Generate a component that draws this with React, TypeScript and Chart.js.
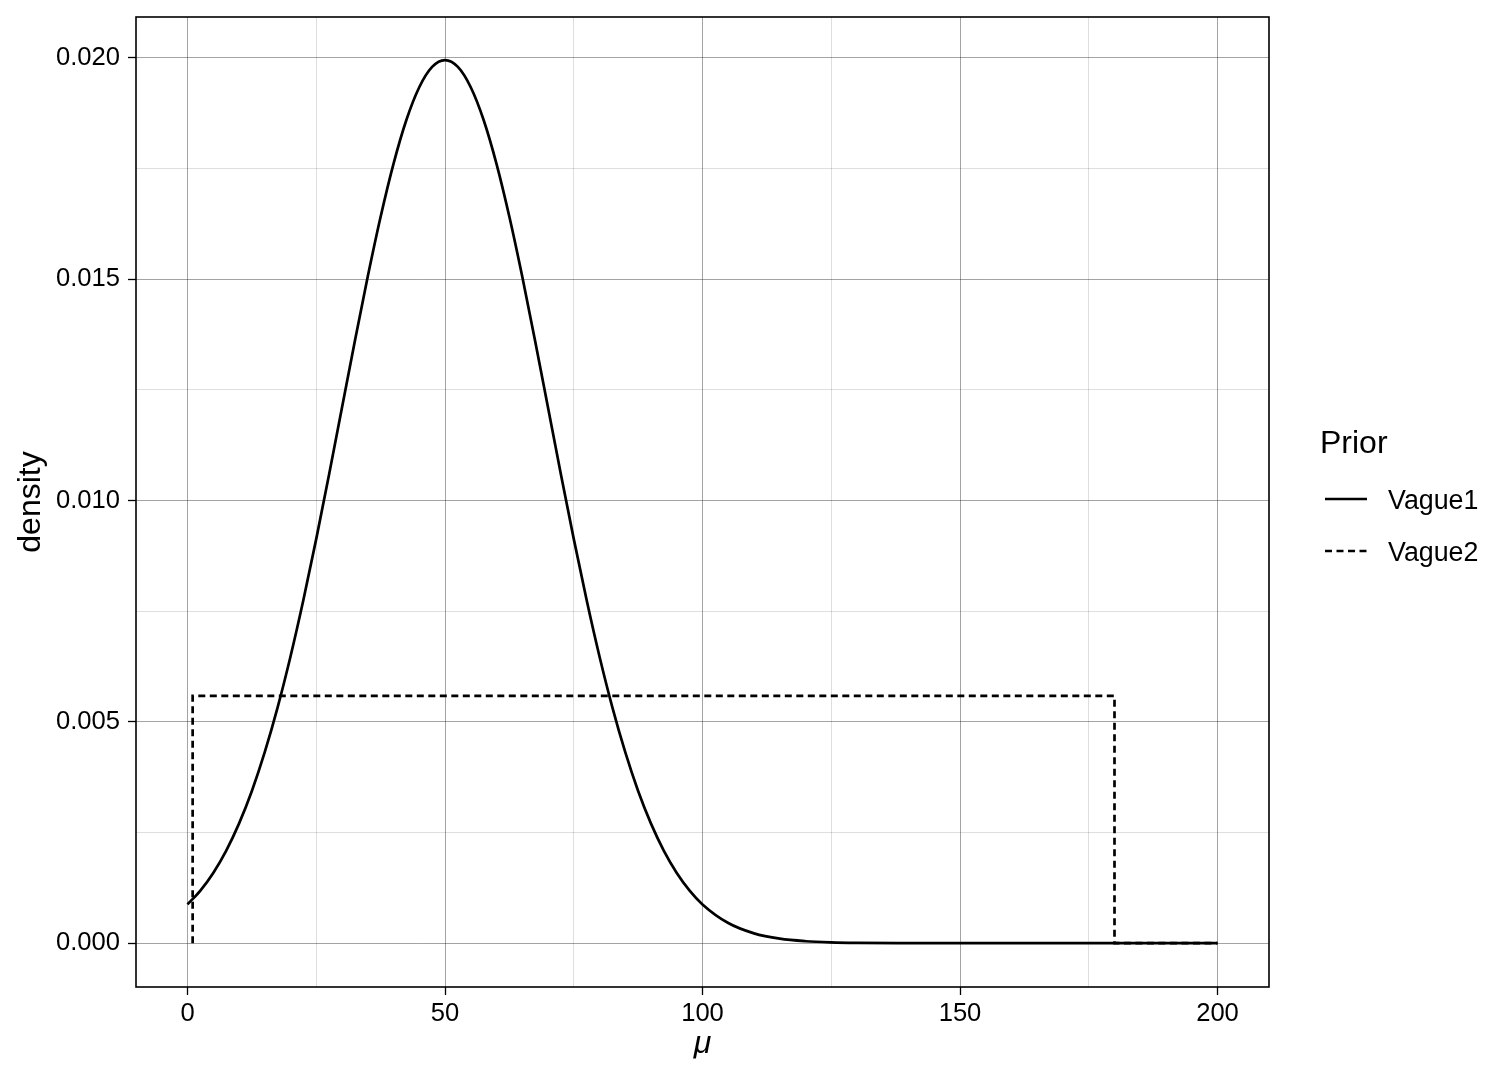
import { useEffect, useRef } from "react";
import { Chart, registerables } from "chart.js";

Chart.register(...registerables);

// ---- data ----
const vague1X = [
  0, 2.5, 5, 7.5, 10, 12.5, 15, 17.5, 20, 22.5, 25, 27.5, 30, 32.5, 35, 37.5, 40, 42.5, 45, 47.5,
  50, 52.5, 55, 57.5, 60, 62.5, 65, 67.5, 70, 72.5, 75, 77.5, 80, 82.5, 85, 87.5, 90, 92.5, 95, 97.5,
  100, 105, 110, 115, 120, 125, 130, 140, 150, 160, 170, 180, 190, 200,
];
const vague1Y = [
  0.000876, 0.001188, 0.001587, 0.002086, 0.0027, 0.003439, 0.004314, 0.005327, 0.006476, 0.007751,
  0.009132, 0.010594, 0.012099, 0.013603, 0.015057, 0.016408, 0.017603, 0.018593, 0.019333, 0.019792,
  0.019947, 0.019792, 0.019333, 0.018593, 0.017603, 0.016408, 0.015057, 0.013603, 0.012099, 0.010594,
  0.009132, 0.007751, 0.006476, 0.005327, 0.004314, 0.003439, 0.0027, 0.002086, 0.001587, 0.001188,
  0.000876, 0.000455, 0.000222, 0.000101, 0.000044, 0.000018, 0.000007, 0.000001, 0, 0, 0, 0, 0, 0,
];
const vague2X = [1, 1, 180, 180, 200];
const vague2Y = [0, 0.005587, 0.005587, 0, 0];

const seriesNames = ["Vague1", "Vague2"];
const legendTitle = "Prior";
const xTitle = "μ";
const yTitle = "density";

const xMajorTicks = [0, 50, 100, 150, 200];
const xMinorTicks = [25, 75, 125, 175];
const xTickLabels = ["0", "50", "100", "150", "200"];
const yMajorTicks = [0, 0.005, 0.01, 0.015, 0.02];
const yMinorTicks = [0.0025, 0.0075, 0.0125, 0.0175];
const yTickLabels = ["0.000", "0.005", "0.010", "0.015", "0.020"];

const FONT = "'Liberation Sans', Arial, Helvetica, sans-serif";
const MAJOR_GRID = "rgba(0,0,0,0.36)";
const MINOR_GRID = "rgba(0,0,0,0.13)";
const LINE_W = 2.7;
const DASH = [7, 4.5];

const idxOf = (arr: number[], v: number) => arr.findIndex((m) => Math.abs(m - v) < 1e-9);

export default function App() {
  const ref = useRef<HTMLCanvasElement>(null);

  useEffect(() => {
    document.body.style.margin = "0";
    const canvas = ref.current!;

    const borderPlugin = {
      id: "panelBorder",
      afterDatasetsDraw(chart: any) {
        const { ctx, chartArea } = chart;
        ctx.save();
        ctx.strokeStyle = "#000";
        ctx.lineWidth = 1.6;
        ctx.strokeRect(chartArea.left, chartArea.top, chartArea.right - chartArea.left, chartArea.bottom - chartArea.top);
        ctx.restore();
      },
    };

    const legendPlugin = {
      id: "customLegend",
      afterDraw(chart: any) {
        const { ctx } = chart;
        ctx.save();
        ctx.fillStyle = "#000";
        ctx.textAlign = "left";
        ctx.textBaseline = "alphabetic";
        ctx.font = `32px ${FONT}`;
        ctx.fillText(legendTitle, 1320, 453);
        const rows = [499, 551];
        ctx.font = `26.8px ${FONT}`;
        rows.forEach((y, i) => {
          ctx.beginPath();
          ctx.strokeStyle = "#000";
          ctx.lineWidth = LINE_W;
          ctx.setLineDash(i === 0 ? [] : DASH);
          ctx.moveTo(1325, y);
          ctx.lineTo(1367, y);
          ctx.stroke();
          ctx.setLineDash([]);
          ctx.fillText(seriesNames[i], 1388, y + 10);
        });
        ctx.restore();
      },
    };

    const xAll = [...xMajorTicks, ...xMinorTicks].sort((a, b) => a - b);
    const yAll = [...yMajorTicks, ...yMinorTicks].sort((a, b) => a - b);

    const chart = new Chart(canvas, {
      type: "scatter",
      data: {
        datasets: [
          {
            label: seriesNames[0],
            data: vague1X.map((x, i) => ({ x, y: vague1Y[i] })),
            showLine: true,
            borderColor: "#000",
            backgroundColor: "#000",
            borderWidth: LINE_W,
            pointRadius: 0,
            cubicInterpolationMode: "monotone",
            fill: false,
            order: 1,
          },
          {
            label: seriesNames[1],
            data: vague2X.map((x, i) => ({ x, y: vague2Y[i] })),
            showLine: true,
            borderColor: "#000",
            backgroundColor: "#000",
            borderWidth: LINE_W,
            borderDash: DASH,
            pointRadius: 0,
            tension: 0,
            fill: false,
            order: 0,
          },
        ] as any,
      },
      options: {
        responsive: false,
        animation: false,
        devicePixelRatio: 1,
        layout: { padding: { left: 0, top: 17, right: 243, bottom: 0 } },
        plugins: {
          legend: { display: false },
          tooltip: { enabled: false },
        },
        scales: {
          x: {
            type: "linear",
            min: -10,
            max: 210,
            afterBuildTicks: (s: any) => {
              s.ticks = xAll.map((v) => ({ value: v }));
            },
            afterFit: (s: any) => {
              s.height = 93;
              s.paddingLeft = 0;
              s.paddingRight = 0;
            },
            ticks: {
              autoSkip: false,
              maxRotation: 0,
              padding: 4,
              color: "#000",
              font: { family: FONT, size: 25.6 },
              callback: (v: any) => {
                const i = idxOf(xMajorTicks, Number(v));
                return i >= 0 ? xTickLabels[i] : "";
              },
            },
            grid: {
              color: (c: any) => (idxOf(xMajorTicks, c.tick?.value) >= 0 ? MAJOR_GRID : MINOR_GRID),
              lineWidth: 1,
              drawTicks: true,
              tickLength: 8,
              tickWidth: 1.3,
              tickColor: (c: any) => (idxOf(xMajorTicks, c.tick?.value) >= 0 ? "#000" : "rgba(0,0,0,0)"),
            },
            border: { display: false },
            title: {
              display: true,
              text: xTitle,
              color: "#000",
              font: { family: FONT, size: 32, style: "italic" },
              padding: { top: 0, bottom: 17 },
            },
          },
          y: {
            type: "linear",
            min: -0.00099,
            max: 0.02092,
            afterBuildTicks: (s: any) => {
              s.ticks = yAll.map((v) => ({ value: v }));
            },
            afterFit: (s: any) => {
              s.width = 136;
              s.paddingTop = 0;
              s.paddingBottom = 0;
            },
            ticks: {
              autoSkip: false,
              padding: 8,
              color: "#000",
              font: { family: FONT, size: 25.6 },
              callback: (v: any) => {
                const i = idxOf(yMajorTicks, Number(v));
                return i >= 0 ? yTickLabels[i] : "";
              },
            },
            grid: {
              color: (c: any) => (idxOf(yMajorTicks, c.tick?.value) >= 0 ? MAJOR_GRID : MINOR_GRID),
              lineWidth: 1,
              drawTicks: true,
              tickLength: 8,
              tickWidth: 1.3,
              tickColor: (c: any) => (idxOf(yMajorTicks, c.tick?.value) >= 0 ? "#000" : "rgba(0,0,0,0)"),
            },
            border: { display: false },
            title: {
              display: true,
              text: yTitle,
              color: "#000",
              font: { family: FONT, size: 32 },
              padding: { top: 12, bottom: 0 },
            },
          },
        },
      } as any,
      plugins: [borderPlugin, legendPlugin],
    });

    return () => chart.destroy();
  }, []);

  return <canvas ref={ref} width={1512} height={1080} style={{ display: "block" }} />;
}
